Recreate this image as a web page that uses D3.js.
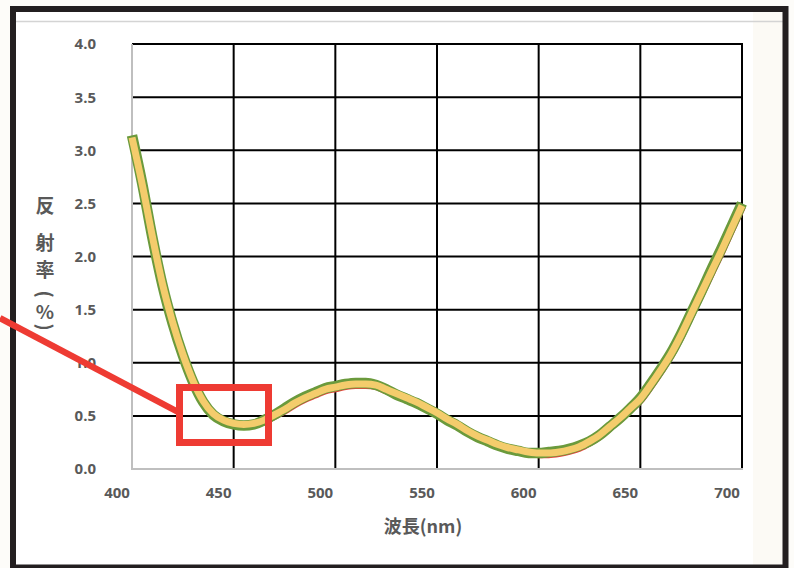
<!DOCTYPE html>
<html>
<head>
<meta charset="utf-8">
<script src="https://cdn.jsdelivr.net/npm/d3@7"></script>
<style>
  html, body { margin: 0; padding: 0; background: #fdfcf9; }
  svg { display: block; }
</style>
</head>
<body>
<svg id="chart" width="794" height="568"></svg>
<script>
// ---- data ----
const wavelengths = [400,405,410,415,420,425,430,435,440,445,450,455,460,465,470,475,480,485,490,495,500,505,510,515,520,525,530,535,540,545,550,555,560,565,570,575,580,585,590,595,600,605,610,615,620,625,630,635,640,645,650,655,660,665,670,675,680,685,690,695,700];
const reflectYellow = [3.12,2.68,2.19,1.74,1.38,1.08,0.83,0.64,0.52,0.46,0.43,0.42,0.43,0.46,0.51,0.56,0.62,0.67,0.71,0.75,0.77,0.79,0.80,0.80,0.79,0.75,0.71,0.67,0.63,0.58,0.53,0.47,0.42,0.36,0.31,0.27,0.23,0.20,0.18,0.16,0.15,0.15,0.16,0.18,0.21,0.26,0.32,0.40,0.48,0.57,0.66,0.79,0.93,1.08,1.26,1.46,1.66,1.86,2.06,2.27,2.48];
const reflectGreen  = [3.14,2.69,2.18,1.73,1.37,1.07,0.82,0.63,0.51,0.45,0.42,0.41,0.42,0.46,0.51,0.57,0.63,0.68,0.72,0.76,0.78,0.80,0.81,0.81,0.79,0.75,0.70,0.66,0.62,0.57,0.52,0.46,0.41,0.35,0.30,0.26,0.22,0.19,0.17,0.15,0.15,0.16,0.17,0.19,0.22,0.26,0.32,0.40,0.48,0.57,0.67,0.80,0.94,1.09,1.27,1.47,1.67,1.88,2.08,2.29,2.50];
const reflectRed    = [3.12,2.67,2.18,1.73,1.37,1.07,0.82,0.63,0.51,0.45,0.42,0.41,0.42,0.45,0.50,0.55,0.61,0.66,0.70,0.74,0.76,0.78,0.79,0.79,0.78,0.74,0.70,0.66,0.62,0.57,0.52,0.46,0.41,0.35,0.30,0.26,0.22,0.19,0.17,0.15,0.14,0.14,0.15,0.17,0.20,0.25,0.31,0.39,0.47,0.56,0.65,0.78,0.92,1.07,1.25,1.45,1.65,1.85,2.05,2.26,2.47];
const xTicks = [400,450,500,550,600,650,700];
const yTicks = [0.0,0.5,1.0,1.5,2.0,2.5,3.0,3.5,4.0];
const xTitle = "波長(nm)";
const yTitleChars = ["反","射","率","(","%",")"];

// ---- layout ----
const svg = d3.select("#chart");
const L = 132, R = 742, T = 44, B = 469;
const x = d3.scaleLinear().domain([400,700]).range([L,R]);
const y = d3.scaleLinear().domain([0,4]).range([B,T]);

// frame background
svg.append("rect").attr("x",13).attr("y",9).attr("width",772).attr("height",562).attr("fill","#ffffff");
svg.append("rect").attr("x",753).attr("y",12).attr("width",30).attr("height",556).attr("fill","#fcfaf5");
svg.append("line").attr("x1",16).attr("x2",783).attr("y1",21.5).attr("y2",21.5).attr("stroke","#d4d4d4").attr("stroke-width",1.5);
svg.append("rect").attr("x",13).attr("y",9).attr("width",772.5).attr("height",558.5)
  .attr("fill","none").attr("stroke","#231f20").attr("stroke-width",6);

// gridlines
const g = svg.append("g");
g.selectAll(".hg").data(yTicks.filter(v=>v>0)).enter().append("line")
  .attr("x1",L).attr("x2",R+1).attr("y1",d=>y(d)).attr("y2",d=>y(d))
  .attr("stroke","#000").attr("stroke-width",2);
g.selectAll(".vg").data(xTicks.filter(v=>v>400)).enter().append("line")
  .attr("x1",d=>x(d)).attr("x2",d=>x(d)).attr("y1",T-1).attr("y2",B)
  .attr("stroke","#000").attr("stroke-width",2);
// axes lines (gray)
g.append("line").attr("x1",L).attr("x2",L).attr("y1",T).attr("y2",B+1).attr("stroke","#bfbfbf").attr("stroke-width",2);
g.append("line").attr("x1",L).attr("x2",R+1).attr("y1",B).attr("y2",B).attr("stroke","#bfbfbf").attr("stroke-width",2);

// tick labels
const fontDigits = "'Open Sans', 'Noto Sans', sans-serif";
svg.selectAll(".yl").data(yTicks).enter().append("text")
  .attr("x",96).attr("y",d=>y(d)).attr("dy","0.36em")
  .attr("text-anchor","end").attr("font-family",fontDigits).attr("font-weight","bold")
  .attr("font-size",15).attr("fill","#595959").text(d=>d3.format(".1f")(d));
svg.selectAll(".xl").data(xTicks).enter().append("text")
  .attr("x",d=>x(d)-15).attr("y",493).attr("dy","0.36em")
  .attr("text-anchor","middle").attr("font-family",fontDigits).attr("font-weight","bold")
  .attr("font-size",15).attr("fill","#595959").text(d=>d);

// titles
svg.append("text").attr("x",423).attr("y",527).attr("dy","0.36em").attr("text-anchor","middle")
  .attr("font-family","'Noto Sans CJK JP', sans-serif").attr("font-weight","bold").attr("font-size",18)
  .attr("fill","#595959").text(xTitle);
const yCharPos = [206,243,270,294,312,327];
const yCharRot = [0,0,0,90,0,90];
svg.selectAll(".yt").data(yTitleChars).enter().append("text")
  .attr("transform",(d,i)=>`translate(45,${yCharPos[i]}) rotate(${yCharRot[i]})`)
  .attr("dy","0.36em").attr("text-anchor","middle")
  .attr("font-family","'Noto Sans CJK JP', sans-serif").attr("font-weight","bold").attr("font-size",19)
  .attr("fill","#595959").text(d=>d);

// series
const line = (vals) => d3.line().x((d,i)=>x(wavelengths[i])).y(d=>y(d)).curve(d3.curveMonotoneX)(vals);
svg.append("path").attr("d",line(reflectRed)).attr("fill","none").attr("stroke","#e8413a").attr("stroke-width",8);
svg.append("path").attr("d",line(reflectGreen)).attr("fill","none").attr("stroke","#6b9a3c").attr("stroke-width",10.5);
svg.append("path").attr("d",line(reflectYellow)).attr("fill","none").attr("stroke","#f4cc6c").attr("stroke-width",7);

// red annotation
svg.append("line").attr("x1",0).attr("y1",318).attr("x2",180).attr("y2",413)
  .attr("stroke","#ee3b33").attr("stroke-width",6.5);
svg.append("rect").attr("x",179.5).attr("y",387.5).attr("width",89).attr("height",55)
  .attr("fill","none").attr("stroke","#ee3b33").attr("stroke-width",7);
</script>
</body>
</html>
